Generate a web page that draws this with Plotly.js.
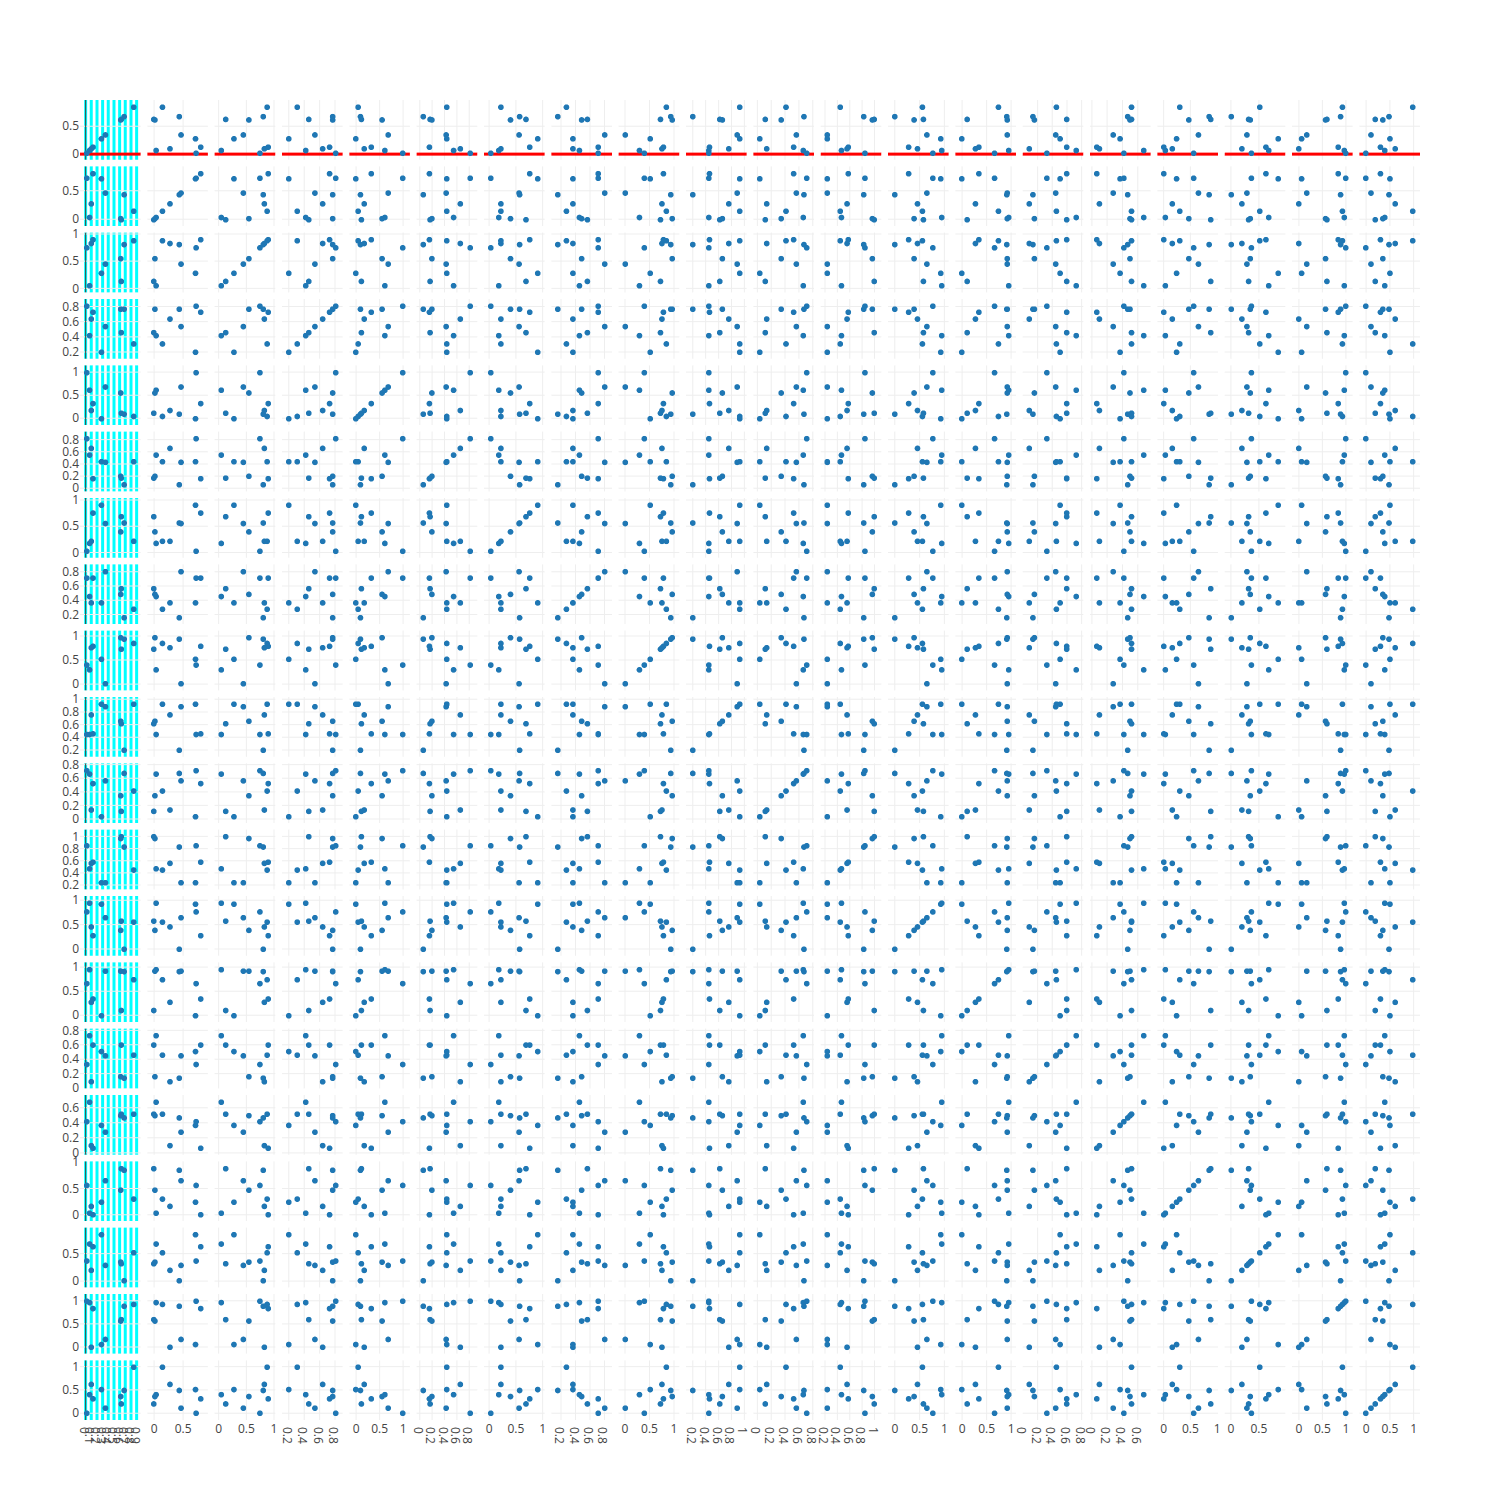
<!DOCTYPE html>
<html>
<head>
<meta charset="utf-8">
<script src="https://cdn.plot.ly/plotly-3.0.1.min.js"></script>
<style>body{margin:0;padding:0;background:#fff}#plot{width:1500px;height:1500px}</style>
</head>
<body>
<div id="plot"></div>
<script>
// 10 observations (a..j) for each of 20 dimensions
const d1  = [0.63, 0.62, 0.07, 0.85, 0.10, 0.68, 0.35, 0.28, 0.02, 0.13];
const d2  = [0.00, 0.02, 0.04, 0.15, 0.28, 0.44, 0.47, 0.72, 0.73, 0.81];
const d3  = [0.13, 0.55, 0.05, 0.88, 0.83, 0.81, 0.45, 0.28, 0.75, 0.90];
const d4  = [0.46, 0.77, 0.42, 0.31, 0.64, 0.77, 0.54, 0.20, 0.81, 0.73];
const d5  = [0.12, 0.56, 0.62, 0.05, 0.18, 0.10, 0.69, 0.00, 1.00, 0.33];
const d6  = [0.17, 0.20, 0.55, 0.44, 0.66, 0.06, 0.43, 0.44, 0.82, 0.16];
const d7  = [0.69, 0.40, 0.18, 0.22, 0.22, 0.57, 0.56, 0.91, 0.03, 0.76];
const d8  = [0.57, 0.49, 0.46, 0.28, 0.37, 0.16, 0.81, 0.37, 0.72, 0.72];
const d9  = [0.73, 0.97, 0.30, 0.85, 0.76, 0.94, 0.01, 0.52, 0.40, 0.79];
const d10 = [0.62, 0.66, 0.45, 0.93, 0.76, 0.20, 0.89, 0.93, 0.45, 0.46];
const d11 = [0.12, 0.35, 0.67, 0.42, 0.14, 0.68, 0.57, 0.04, 0.72, 0.53];
const d12 = [1.00, 0.97, 0.47, 0.45, 0.56, 0.83, 0.24, 0.24, 0.85, 0.58];
const d13 = [0.58, 0.39, 0.95, 0.56, 0.46, 0.00, 0.65, 0.93, 0.77, 0.28];
const d14 = [0.11, 0.93, 0.96, 0.75, 0.28, 0.92, 0.93, 0.00, 0.67, 0.35];
const d15 = [0.60, 0.16, 0.73, 0.46, 0.09, 0.14, 0.45, 0.51, 0.33, 0.60];
const d16 = [0.52, 0.50, 0.68, 0.52, 0.10, 0.47, 0.28, 0.37, 0.42, 0.065];
const d17 = [0.89, 0.48, 0.04, 0.31, 0.17, 0.86, 0.66, 0.25, 0.57, 0.01];
const d18 = [0.32, 0.35, 0.68, 0.52, 0.20, 0.01, 0.29, 0.85, 0.37, 0.63];
const d19 = [0.60, 0.57, 0.97, 0.93, 0.00, 0.89, 0.17, 0.06, 1.00, 0.84];
const d20 = [0.20, 0.36, 0.40, 0.99, 0.62, 0.49, 0.11, 0.51, 0.00, 0.31];

const allDims = [d1, d2, d3, d4, d5, d6, d7, d8, d9, d10, d11, d12, d13, d14, d15, d16, d17, d18, d19, d20];
const dimensions = allDims.map(v => ({values: v}));

const trace = {
  type: 'splom',
  dimensions: dimensions,
  marker: {color: '#1f77b4'}
};

const layout = {
  width: 1500,
  height: 1500,
  showlegend: false,
  xaxis: {gridcolor: 'cyan', gridwidth: 3, dtick: 0.1, zeroline: true, zerolinecolor: '#444'},
  yaxis: {zeroline: true, zerolinecolor: 'red', zerolinewidth: 3}
};
for (let k = 2; k <= allDims.length; k++) {
  layout['xaxis' + k] = {zeroline: false};
  layout['yaxis' + k] = {zeroline: false};
}

Plotly.newPlot('plot', [trace], layout, {displayModeBar: false});
</script>
</body>
</html>
